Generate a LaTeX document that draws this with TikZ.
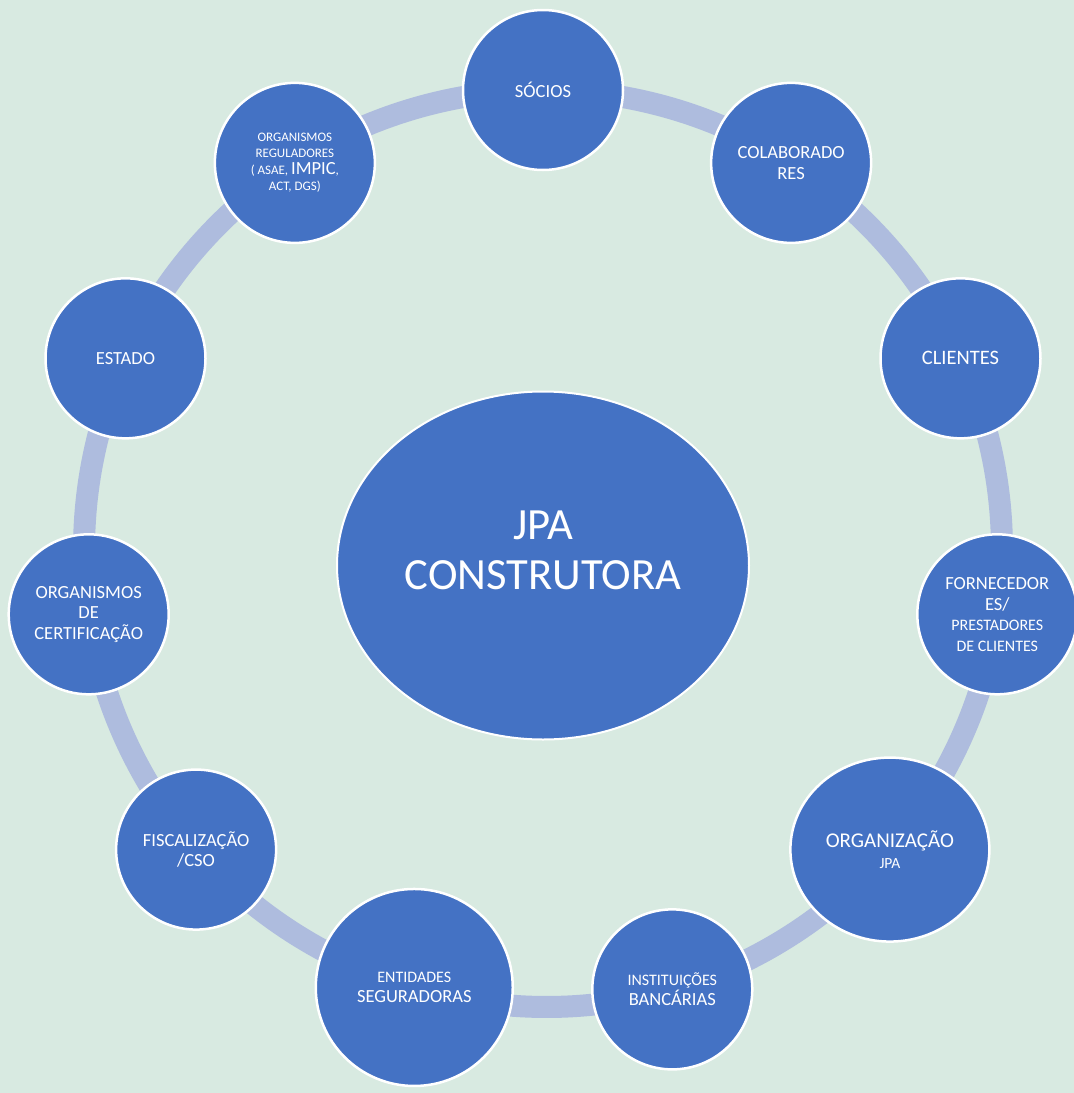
\documentclass[tikz,border=0pt]{standalone}
\usepackage{fontspec}
\setmainfont{Carlito}
\usetikzlibrary{shapes.geometric,backgrounds}
\definecolor{bgc}{HTML}{D8EAE1}
\definecolor{nodeblue}{HTML}{4472C4}
\definecolor{ringc}{HTML}{AEBCDE}
\newcommand{\fsz}[2]{\fontsize{#1}{#2}\selectfont}
\begin{document}
\begin{tikzpicture}[x=1pt,y=1pt,
  sat/.style={circle, fill=nodeblue, draw=white, line width=2.5pt,
    minimum size=160pt, inner sep=0pt, text=white, align=center,
    font=\fsz{18.5}{20.5}},
  ringseg/.style={draw=ringc, line width=22pt, bend left=16.3636, looseness=0.869},
  txt/.style={text=white, align=center, inner sep=0pt}
]
\useasboundingbox (0,0) rectangle (1074,-1093);

% central node
\node[ellipse, fill=nodeblue, draw=white, line width=2pt, minimum width=412pt,
  minimum height=348pt, inner sep=0pt] (jpa) at (543,-565.5) {};
\node[txt, font=\fsz{44.6}{50}] (jpatext) at ([yshift=15]jpa.center) {JPA\\CONSTRUTORA};

\begin{scope}[shift={(543,-549)}]
\node[sat] (socios) at (90:459) {SÓCIOS};
\node[sat] (colab) at (57.2727:459) {COLABORADO\\RES};
\node[sat, font=\fsz{20.5}{22}] (clientes) at (24.5455:459) {CLIENTES};
\node[sat] (fornec) at (-8.1818:459) {FORNECEDOR\\ES/\\{\fsz{16}{19}PRESTADORES}\\{\fsz{16}{18}DE CLIENTES}};
\node[sat, ellipse, minimum width=199pt, minimum height=184pt] (organiz) at (-40.9091:459)
  {{\fsz{21}{21}ORGANIZAÇÃO}\\{\fsz{15.5}{19}JPA}};
\node[sat] (instit) at (-73.6364:459) {{\fsz{16}{19}INSTITUIÇÕES}\\BANCÁRIAS};
\node[sat, minimum size=197pt] (entid) at (-106.3636:457) {{\fsz{16}{19}ENTIDADES}\\SEGURADORAS};
\node[sat] (fiscal) at (-139.0909:459) {FISCALIZAÇÃO\\/CSO};
\node[sat] (orgcert) at (-171.8182:459) {ORGANISMOS\\DE\\CERTIFICAÇÃO};
\node[sat] (estado) at (155.4545:459) {ESTADO};
\node[sat, font=\fsz{13}{16.5}] (orgreg) at (122.7273:459)
  {ORGANISMOS\\REGULADORES\\( ASAE, {\fsz{18.5}{18}IMPIC},\\ACT, DGS)};
\end{scope}

\begin{scope}[on background layer]
\fill[bgc] (0,0) rectangle (1074,-1093);
\path[ringseg] (socios.center) to (colab.center);
\path[ringseg] (colab.center) to (clientes.center);
\path[ringseg] (clientes.center) to (fornec.center);
\path[ringseg] (fornec.center) to (organiz.center);
\path[ringseg] (organiz.center) to (instit.center);
\path[ringseg] (instit.center) to (entid.center);
\path[ringseg] (entid.center) to (fiscal.center);
\path[ringseg] (fiscal.center) to (orgcert.center);
\path[ringseg] (orgcert.center) to (estado.center);
\path[ringseg] (estado.center) to (orgreg.center);
\path[ringseg] (orgreg.center) to (socios.center);
\end{scope}
\end{tikzpicture}
\end{document}
